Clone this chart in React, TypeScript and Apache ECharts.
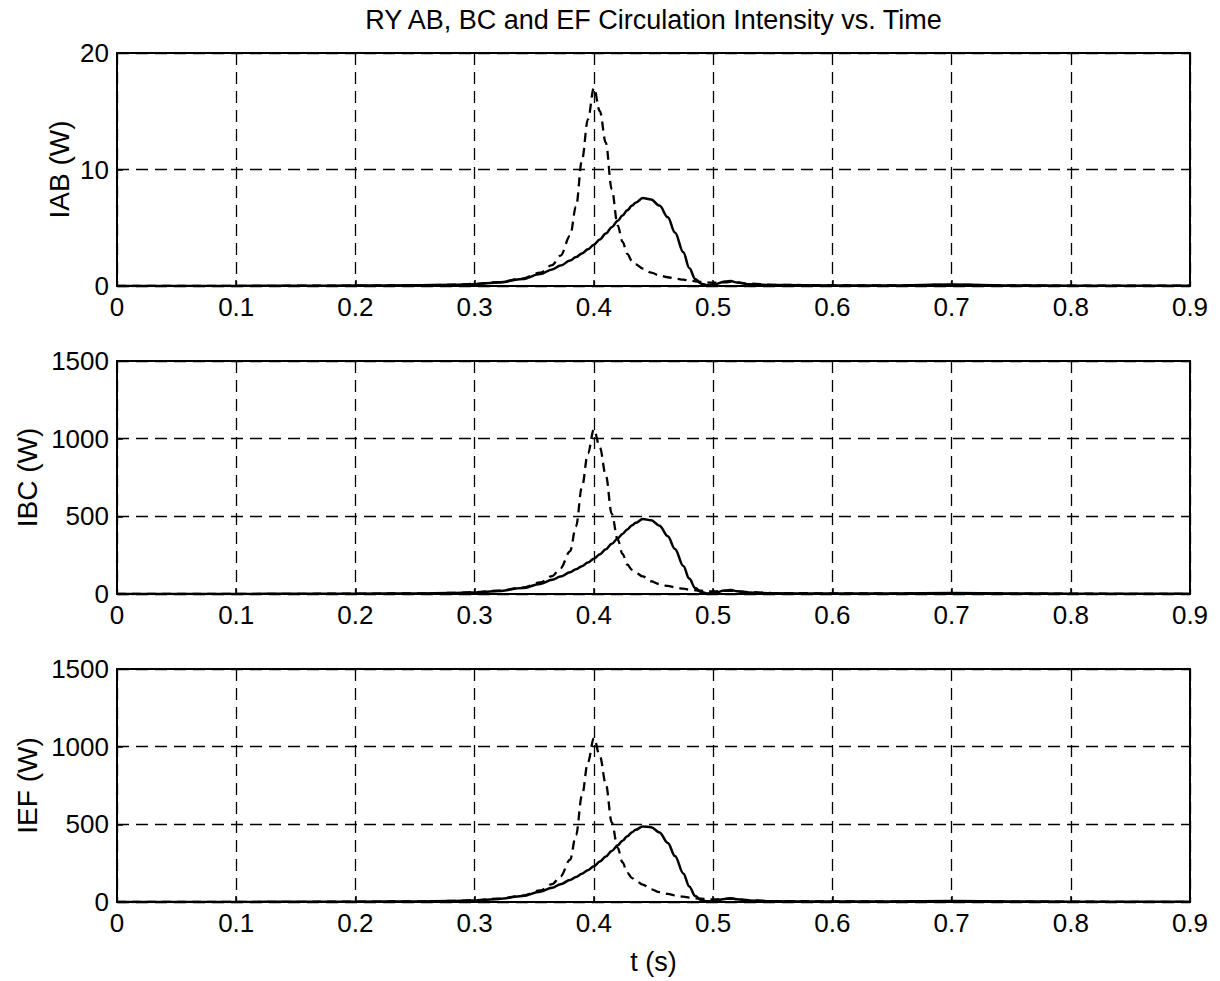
import React, { useEffect, useRef } from "react";
import * as echarts from "echarts";

const TITLE = "RY AB, BC and EF Circulation Intensity vs. Time";
const X_NAME = "t (s)";
const Y_NAMES = ["IAB (W)", "IBC (W)", "IEF (W)"];
const X_MIN = 0;
const X_MAX = 0.9;
const X_STEP = 0.1;
const Y_MAX = [20, 1500, 1500];
const Y_STEP = [10, 500, 500];

const TIME = [
  0, 0.05, 0.1, 0.15, 0.2, 0.25, 0.28, 0.3, 0.32, 0.34, 0.355, 0.365, 0.372, 0.38, 0.385,
  0.39, 0.395, 0.4, 0.405, 0.41, 0.415, 0.42, 0.424, 0.428, 0.432, 0.435, 0.441, 0.448,
  0.455, 0.462, 0.468, 0.475, 0.48, 0.485, 0.49, 0.495, 0.5, 0.51, 0.515, 0.52, 0.53,
  0.55, 0.6, 0.65, 0.7, 0.75, 0.8, 0.85, 0.9,
];

const IAB_SOLID = [
  0, 0.005, 0.01, 0.02, 0.035, 0.06, 0.1, 0.16, 0.3, 0.6, 1.02, 1.42, 1.75, 2.18, 2.48,
  2.8, 3.15, 3.55, 4.0, 4.5, 5.05, 5.6, 6.05, 6.5, 6.9, 7.15, 7.55, 7.42,
  6.9, 5.9, 4.6, 2.9, 1.55, 0.6, 0.2, 0.07, 0.1, 0.38, 0.42, 0.3, 0.15,
  0.08, 0.05, 0.05, 0.12, 0.05, 0.03, 0.02, 0.02,
];
const IAB_DASHED = [
  0, 0.005, 0.01, 0.02, 0.035, 0.06, 0.1, 0.18, 0.33, 0.64, 1.15, 1.8, 2.6, 4.3, 6.8,
  10.8, 14.3, 17.0, 15.0, 12.3, 8.3, 5.2, 3.8, 2.75, 2.15, 1.85, 1.5, 1.15,
  0.9, 0.75, 0.64, 0.55, 0.47, 0.4, 0.35, 0.3, 0.28, 0.32, 0.35, 0.3, 0.2,
  0.1, 0.06, 0.05, 0.1, 0.05, 0.03, 0.02, 0.02,
];
const IBC_SOLID = [
  0, 0.3, 0.6, 1.2, 2.2, 4, 6.5, 10, 19, 38, 65, 91, 112, 140, 159,
  179, 202, 227, 256, 288, 323, 358, 387, 416, 442, 458, 483, 475,
  440, 372, 290, 180, 99, 38, 13, 4, 6, 22, 25, 18, 9,
  5, 3, 3, 6, 3, 2, 1, 1,
];
const IBC_DASHED = [
  0, 0.3, 0.6, 1.2, 2.2, 4, 6.5, 12, 21, 41, 74, 115, 166, 275, 435,
  690, 905, 1060, 944, 765, 516, 350, 258, 190, 155, 138, 113, 82,
  64, 52, 43, 34, 28, 24, 21, 18, 17, 20, 21, 18, 12,
  6, 4, 3, 6, 3, 2, 1, 1,
];
const IEF_SOLID = [
  0, 0.3, 0.6, 1.2, 2.2, 4, 6.5, 10, 19, 39, 66, 92, 114, 142, 161,
  182, 205, 230, 260, 293, 329, 365, 394, 423, 449, 465, 486, 482,
  448, 380, 296, 184, 100, 38, 13, 5, 6, 20, 24, 18, 9,
  5, 3, 3, 6, 3, 2, 1, 1,
];
const IEF_DASHED = [
  0, 0.3, 0.6, 1.2, 2.2, 4, 6.5, 12, 21, 41, 74, 115, 165, 272, 430,
  685, 900, 1055, 940, 760, 512, 348, 256, 188, 154, 137, 112, 82,
  64, 52, 43, 34, 28, 24, 21, 18, 17, 20, 21, 18, 12,
  6, 4, 3, 6, 3, 2, 1, 1,
];

const PANELS = [
  { solid: IAB_SOLID, dashed: IAB_DASHED },
  { solid: IBC_SOLID, dashed: IBC_DASHED },
  { solid: IEF_SOLID, dashed: IEF_DASHED },
];

const FONT = "'Liberation Sans', Arial, Helvetica, sans-serif";
const GRID_LEFT = 117;
const GRID_WIDTH = 1073;
const GRID_TOPS = [53, 361, 669];
const GRID_HEIGHT = 233;
const NAME_X = [59, 27, 27];

function pairs(values: number[]) {
  return TIME.map((t, i) => [t, values[i]]);
}

export default function App() {
  const ref = useRef<HTMLDivElement>(null);
  useEffect(() => {
    if (!ref.current) return;
    const chart = echarts.init(ref.current, undefined, { renderer: "svg" });
    const grids = GRID_TOPS.map((top) => ({
      left: GRID_LEFT,
      top,
      width: GRID_WIDTH,
      height: GRID_HEIGHT,
      show: true,
      borderColor: "#000",
      borderWidth: 2,
      backgroundColor: "transparent",
      containLabel: false,
    }));
    const xAxes = GRID_TOPS.map((_, i) => ({
      type: "value",
      gridIndex: i,
      min: X_MIN,
      max: X_MAX,
      interval: X_STEP,
      axisLine: { show: true, lineStyle: { color: "#000", width: 2 } },
      axisTick: { show: true, inside: true, length: 6, lineStyle: { color: "#000", width: 1.5 } },
      axisLabel: {
        color: "#000",
        fontSize: 26,
        fontFamily: FONT,
        margin: 8,
        formatter: (v: number) => String(Math.round(v * 10) / 10),
      },
      splitLine: { show: true, lineStyle: { color: "#000", width: 1.3, type: [12, 7] } },
    }));
    const yAxes = GRID_TOPS.map((_, i) => ({
      type: "value",
      gridIndex: i,
      min: 0,
      max: Y_MAX[i],
      interval: Y_STEP[i],
      axisLine: { show: true, lineStyle: { color: "#000", width: 2 } },
      axisTick: { show: true, inside: true, length: 6, lineStyle: { color: "#000", width: 1.5 } },
      axisLabel: {
        color: "#000",
        fontSize: 26,
        fontFamily: FONT,
        margin: 8,
        formatter: (v: number) => String(v),
      },
      splitLine: { show: true, lineStyle: { color: "#000", width: 1.3, type: [12, 7] } },
    }));
    const series: any[] = [];
    PANELS.forEach((p, i) => {
      series.push({
        type: "line",
        xAxisIndex: i,
        yAxisIndex: i,
        data: pairs(p.dashed),
        showSymbol: false,
        smooth: 0.35,
        smoothMonotone: "x",
        lineStyle: { color: "#000", width: 2.3, type: [9, 6] },
        z: 3,
      });
      series.push({
        type: "line",
        xAxisIndex: i,
        yAxisIndex: i,
        data: pairs(p.solid),
        showSymbol: false,
        smooth: 0.35,
        smoothMonotone: "x",
        lineStyle: { color: "#000", width: 2.5, type: "solid" },
        z: 4,
      });
    });
    const centerX = GRID_LEFT + GRID_WIDTH / 2;
    const graphic: any[] = [
      {
        type: "text",
        x: centerX,
        y: 20,
        style: {
          text: TITLE,
          fontSize: 27,
          fontFamily: FONT,
          fill: "#000",
          align: "center",
          verticalAlign: "middle",
        },
      },
      {
        type: "text",
        x: centerX,
        y: 962,
        style: {
          text: X_NAME,
          fontSize: 27,
          fontFamily: FONT,
          fill: "#000",
          align: "center",
          verticalAlign: "middle",
        },
      },
    ];
    Y_NAMES.forEach((name, i) => {
      graphic.push({
        type: "text",
        x: NAME_X[i],
        y: GRID_TOPS[i] + GRID_HEIGHT / 2,
        rotation: Math.PI / 2,
        style: {
          text: name,
          fontSize: 28,
          fontFamily: FONT,
          fill: "#000",
          align: "center",
          verticalAlign: "middle",
        },
      });
    });
    chart.setOption({
      animation: false,
      backgroundColor: "#fff",
      grid: grids,
      xAxis: xAxes,
      yAxis: yAxes,
      series,
      graphic,
    });
    return () => chart.dispose();
  }, []);
  return (
    <div
      ref={ref}
      style={{ position: "absolute", left: 0, top: 0, width: 1220, height: 981 }}
    />
  );
}
